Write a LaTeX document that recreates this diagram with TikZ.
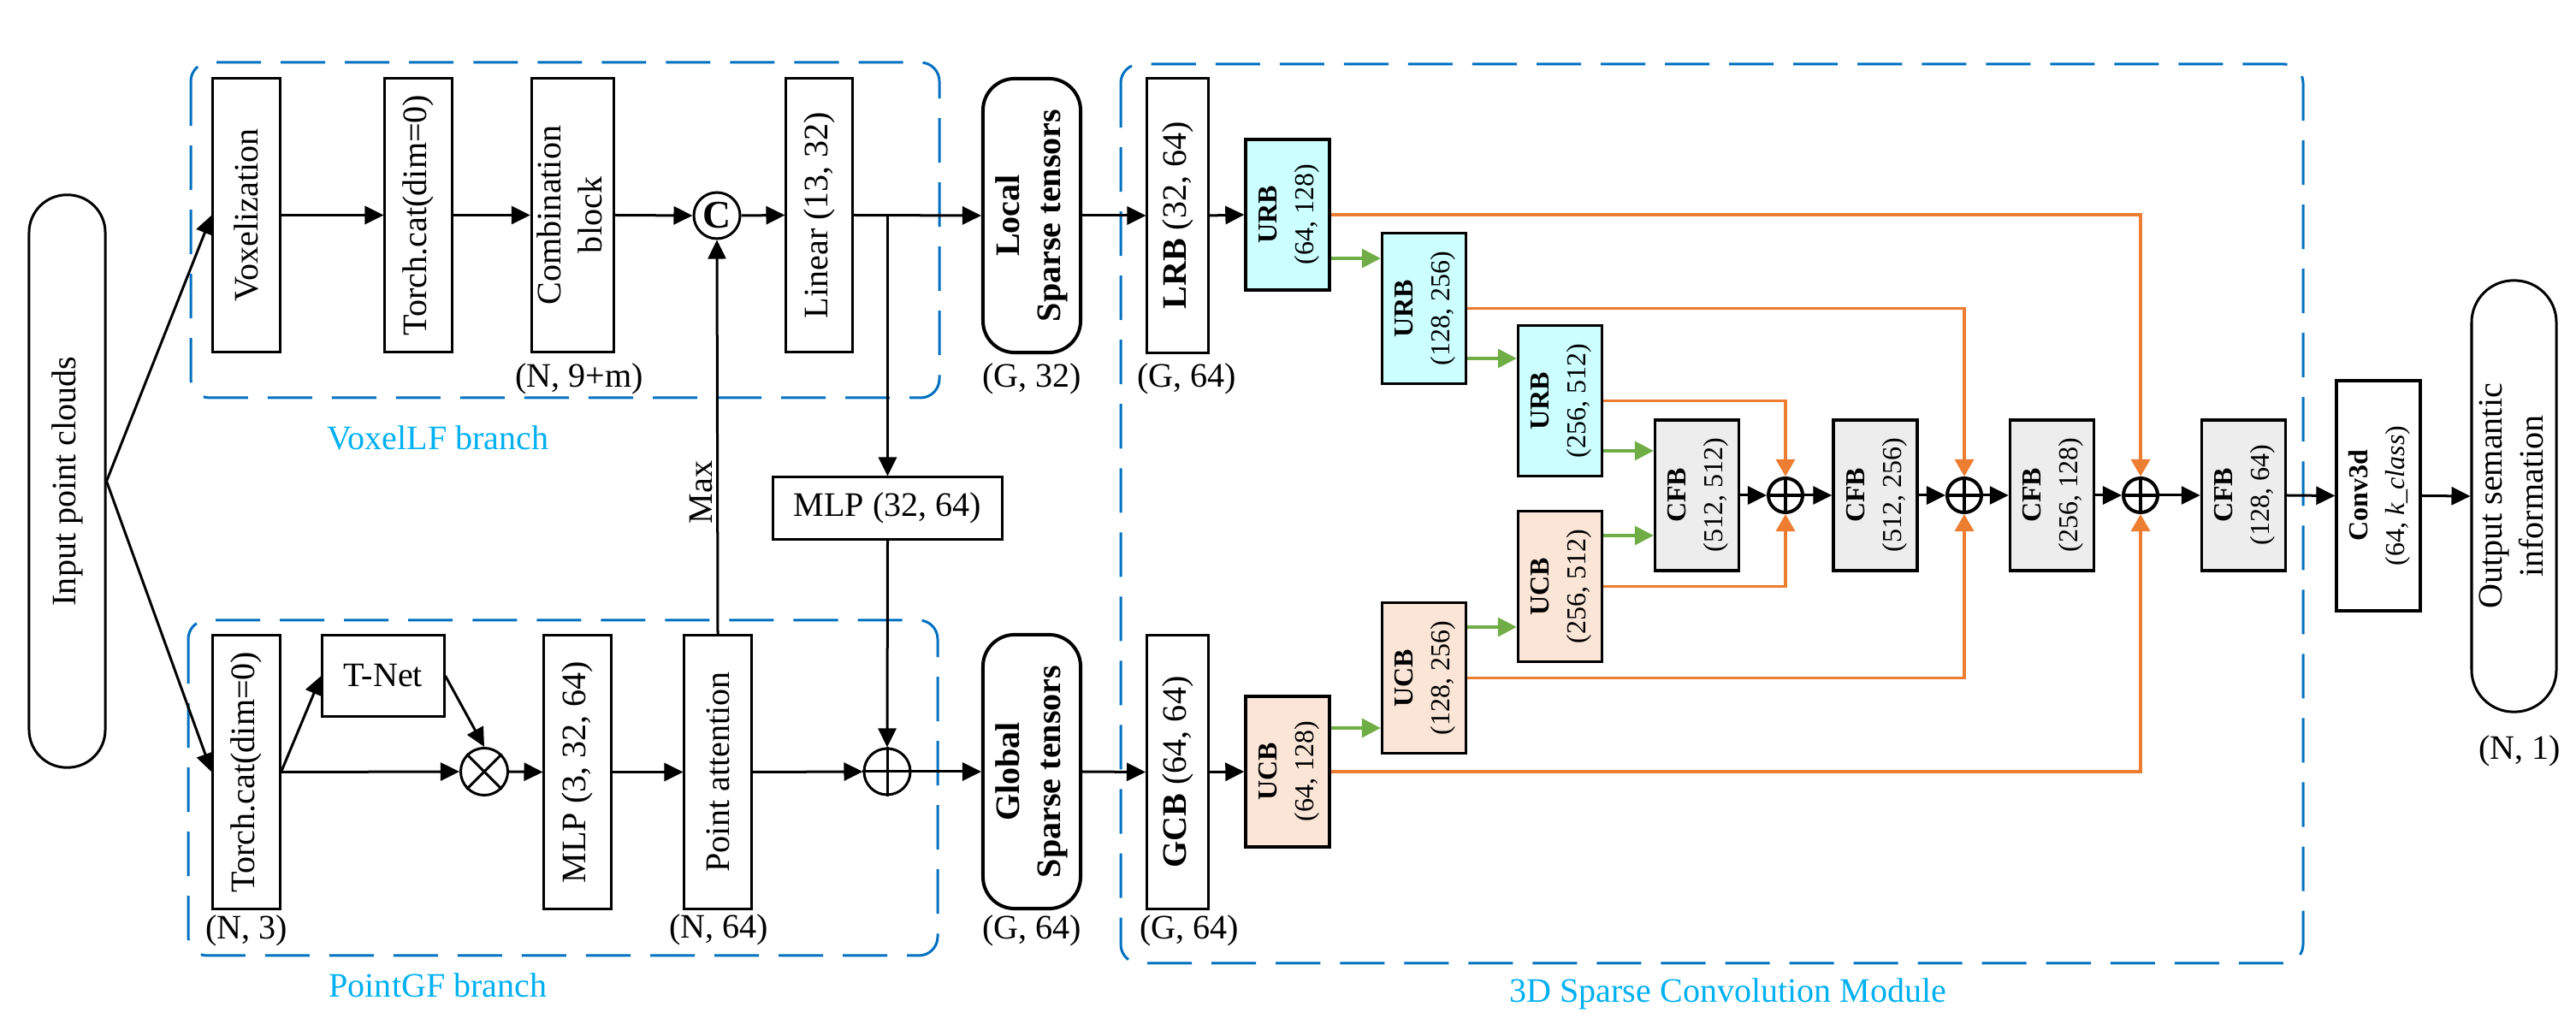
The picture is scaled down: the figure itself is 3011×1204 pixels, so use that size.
\documentclass[tikz,border=0pt]{standalone}
\usepackage{fontspec}
\setmainfont{Liberation Serif}
\usetikzlibrary{arrows.meta,calc}
\definecolor{dblue}{HTML}{0070C0}
\definecolor{lblue}{HTML}{00B0F0}
\definecolor{orng}{HTML}{ED7D31}
\definecolor{grn}{HTML}{70AD47}
\definecolor{cyanfill}{HTML}{CCFFFF}
\definecolor{peach}{HTML}{FBE5D6}
\definecolor{lgray}{HTML}{EDEDED}
\begin{document}
\begin{tikzpicture}[x=0.01cm,y=-0.01cm,
  base/.style={font=\fontsize{11.4}{13.7}\selectfont},
  blk/.style={draw, line width=0.03cm, inner sep=0pt, base, fill=white},
  tall/.style={blk, minimum width=0.78cm, minimum height=3.19cm},
  rbox/.style={blk, line width=0.04cm, rounded corners=0.37cm, minimum width=1.14cm, minimum height=3.20cm},
  sbox/.style={draw, line width=0.033cm, inner sep=0pt, font=\fontsize{9.1}{12.2}\selectfont, minimum width=0.98cm, minimum height=1.76cm},
  arr/.style={line width=0.03cm, -{Triangle[length=0.22cm,width=0.21cm]}},
  garr/.style={grn, line width=0.035cm, -{Triangle[length=0.22cm,width=0.22cm]}},
  oarr/.style={orng, line width=0.035cm, -{Triangle[length=0.2cm,width=0.22cm]}},
  dbox/.style={dblue, line width=0.03cm, dash pattern=on 0.52cm off 0.23cm, rounded corners=0.22cm},
  lab/.style={base, inner sep=0pt},
  blab/.style={base, inner sep=0pt, lblue},
  circ/.style={draw, circle, line width=0.03cm, minimum size=0.54cm, inner sep=0pt, fill=white},
  pcirc/.style={draw, circle, line width=0.04cm, minimum size=0.40cm, inner sep=0pt, fill=white}
]
\useasboundingbox (0,0) rectangle (3011,1204);

% dashed group frames
\draw[dbox] (223,73) rectangle (1098,465);
\draw[dbox] (220,725) rectangle (1096,1117);
\draw[dbox] (1310,75) rectangle (2692,1126);

% input
\node[blk, rounded corners=0.44cm, minimum width=0.89cm, minimum height=6.69cm] (inp) at (78.5,562.5) {\rotatebox{90}{Input point clouds}};

% VoxelLF branch
\node[tall] (vox) at (288,251.5) {\rotatebox{90}{Voxelization}};
\node[tall] (tc1) at (489,251.5) {\rotatebox{90}{Torch.cat(dim=0)}};
\node[tall, minimum width=0.83cm] (comb) at (669.5,251.5) {\rotatebox{90}{\begin{tabular}{@{}c@{}}Combination\\block\end{tabular}}};
\node[circ, font=\fontsize{13}{14}\selectfont\bfseries] (cc) at (838,252) {C};
\node[tall, minimum width=0.77cm] (lin) at (957.5,251.5) {\rotatebox{90}{Linear (13, 32)}};
\node[rbox] (loc) at (1206,252) {\rotatebox{90}{\bfseries\begin{tabular}{@{}c@{}}Local\\Sparse tensors\end{tabular}}};
\node[tall, minimum width=0.71cm, minimum height=3.20cm] (lrb) at (1376.5,252) {\rotatebox{90}{\textbf{LRB} (32, 64)}};

% PointGF branch
\node[tall] (tc2) at (288,902.5) {\rotatebox{90}{Torch.cat(dim=0)}};
\node[blk, minimum width=1.42cm, minimum height=0.94cm] (tnet) at (448,790) {T-Net};
\node[circ, minimum size=0.55cm] (ot) at (566,902) {};
\node[tall] (mlp3) at (675,902.5) {\rotatebox{90}{MLP (3, 32, 64)}};
\node[tall] (patt) at (839,902.5) {\rotatebox{90}{Point attention}};
\node[circ] (op) at (1037,902) {};
\node[blk, minimum width=2.67cm, minimum height=0.72cm] (mlp32) at (1037.5,594) {MLP (32, 64)};
\node[rbox] (glob) at (1206,902) {\rotatebox{90}{\bfseries\begin{tabular}{@{}c@{}}Global\\Sparse tensors\end{tabular}}};
\node[tall, minimum width=0.72cm] (gcb) at (1376.5,902.5) {\rotatebox{90}{\textbf{GCB} (64, 64)}};

% sparse conv module
\node[sbox, fill=cyanfill] (urb1) at (1505,251) {\rotatebox{90}{\begin{tabular}{@{}c@{}}\textbf{URB}\\(64, 128)\end{tabular}}};
\node[sbox, fill=cyanfill] (urb2) at (1664.5,360.5) {\rotatebox{90}{\begin{tabular}{@{}c@{}}\textbf{URB}\\(128, 256)\end{tabular}}};
\node[sbox, fill=cyanfill] (urb3) at (1823.5,468.5) {\rotatebox{90}{\begin{tabular}{@{}c@{}}\textbf{URB}\\(256, 512)\end{tabular}}};
\node[sbox, fill=peach] (ucb1) at (1505,902) {\rotatebox{90}{\begin{tabular}{@{}c@{}}\textbf{UCB}\\(64, 128)\end{tabular}}};
\node[sbox, fill=peach] (ucb2) at (1664.5,792.5) {\rotatebox{90}{\begin{tabular}{@{}c@{}}\textbf{UCB}\\(128, 256)\end{tabular}}};
\node[sbox, fill=peach] (ucb3) at (1823.5,685.5) {\rotatebox{90}{\begin{tabular}{@{}c@{}}\textbf{UCB}\\(256, 512)\end{tabular}}};
\node[sbox, fill=lgray] (cfb1) at (1983.5,579) {\rotatebox{90}{\begin{tabular}{@{}c@{}}\textbf{CFB}\\(512, 512)\end{tabular}}};
\node[sbox, fill=lgray] (cfb2) at (2192,579) {\rotatebox{90}{\begin{tabular}{@{}c@{}}\textbf{CFB}\\(512, 256)\end{tabular}}};
\node[sbox, fill=lgray] (cfb3) at (2398.5,579) {\rotatebox{90}{\begin{tabular}{@{}c@{}}\textbf{CFB}\\(256, 128)\end{tabular}}};
\node[sbox, fill=lgray] (cfb4) at (2622.5,579) {\rotatebox{90}{\begin{tabular}{@{}c@{}}\textbf{CFB}\\(128, 64)\end{tabular}}};
\node[pcirc] (p1) at (2087,579) {};
\node[pcirc] (p2) at (2296,579) {};
\node[pcirc] (p3) at (2502,579) {};
\node[sbox, fill=white, minimum height=2.69cm] (conv) at (2780,579.5) {\rotatebox{90}{\begin{tabular}{@{}c@{}}\textbf{Conv3d}\\(64, \textit{k\_class})\end{tabular}}};
\node[blk, rounded corners=0.49cm, minimum width=0.99cm, minimum height=5.04cm] (out) at (2938.5,580) {\rotatebox{90}{\begin{tabular}{@{}c@{}}Output semantic\\information\end{tabular}}};

% circle symbols
\draw[line width=0.03cm] (ot.north east) -- (ot.south west) (ot.north west) -- (ot.south east);
\draw[line width=0.03cm] (op.north) -- (op.south) (op.west) -- (op.east);
\foreach \p in {p1,p2,p3}{\draw[line width=0.04cm] (\p.north) -- (\p.south) (\p.west) -- (\p.east);}

% labels
\node[lab] (l1) at (677,443) {(N, 9+m)};
\node[lab] (l2) at (1206,443) {(G, 32)};
\node[lab] (l3) at (1387,443) {(G, 64)};
\node[lab] (l4) at (288,1088) {(N, 3)};
\node[lab] (l5) at (840,1087) {(N, 64)};
\node[lab] (l6) at (1206,1088) {(G, 64)};
\node[lab] (l7) at (1390,1088) {(G, 64)};
\node[lab] (l8) at (2945,878) {(N, 1)};
\node[blab] (b1) at (512,512) {VoxelLF branch};
\node[blab] (b2) at (512,1152) {PointGF branch};
\node[blab] (b3) at (2020,1162) {3D Sparse Convolution Module};

% black connectors
\draw[arr] (inp.east) -- (vox.west);
\draw[arr] (inp.east) -- (tc2.west);
\draw[arr] (vox.east) -- (tc1.west);
\draw[arr] (tc1.east) -- (comb.west);
\draw[arr] (comb.east) -- (cc.west);
\draw[arr] (cc.east) -- (lin.west);
\draw[arr] (lin.east) -- (loc.west);
\coordinate (br) at (mlp32.north |- lin.east);
\draw[arr] (br) -- (mlp32.north);
\draw[arr] (loc.east) -- (lrb.west);
\draw[arr] (lrb.east) -- (urb1.west);
\draw[arr] (patt.north) -- node[pos=0.36, rotate=90, anchor=south, inner sep=0.04cm, base] {Max} (cc.south);
\draw[arr] (tc2.east) -- (tnet.west);
\draw[arr] (tc2.east) -- (ot.west);
\draw[arr] (tnet.east) -- (ot.north);
\draw[arr] (ot.east) -- (mlp3.west);
\draw[arr] (mlp3.east) -- (patt.west);
\draw[arr] (patt.east) -- (op.west);
\draw[arr] (mlp32.south) -- (op.north);
\draw[arr] (op.east) -- (glob.west);
\draw[arr] (glob.east) -- (gcb.west);
\draw[arr] (gcb.east) -- (ucb1.west);
\draw[arr] (cfb1.east) -- (p1.west);
\draw[arr] (p1.east) -- (cfb2.west);
\draw[arr] (cfb2.east) -- (p2.west);
\draw[arr] (p2.east) -- (cfb3.west);
\draw[arr] (cfb3.east) -- (p3.west);
\draw[arr] (p3.east) -- (cfb4.west);
\draw[arr] (cfb4.east) -- (conv.west);
\draw[arr] (conv.east) -- (out.west);

% green connectors
\draw[garr] (urb1.east |- 0,302) -- (urb2.west |- 0,302);
\draw[garr] (urb2.east |- 0,419) -- (urb3.west |- 0,419);
\draw[garr] (urb3.east |- 0,527) -- (cfb1.west |- 0,527);
\draw[garr] (ucb1.east |- 0,851) -- (ucb2.west |- 0,851);
\draw[garr] (ucb2.east |- 0,733) -- (ucb3.west |- 0,733);
\draw[garr] (ucb3.east |- 0,626) -- (cfb1.west |- 0,626);

% orange skip connectors
\draw[oarr] (urb1.east) -| (p3.north);
\draw[oarr] (urb2.east) -| (p2.north);
\draw[oarr] (urb3.east) -| (p1.north);
\draw[oarr] (ucb3.east) -| (p1.south);
\draw[oarr] (ucb2.east) -| (p2.south);
\draw[oarr] (ucb1.east) -| (p3.south);
\end{tikzpicture}
\end{document}
